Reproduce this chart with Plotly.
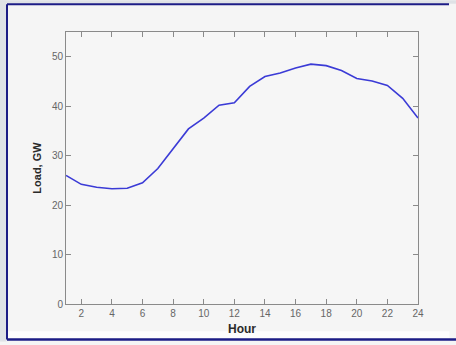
import plotly.graph_objects as go

# Hourly system load profile
hours = list(range(1, 25))
load_gw = [26.0, 24.2, 23.6, 23.3, 23.4, 24.5, 27.4, 31.4, 35.4, 37.6, 40.2, 40.7,
           44.0, 46.0, 46.7, 47.7, 48.5, 48.2, 47.2, 45.6, 45.1, 44.2, 41.6, 37.6]

x_ticks = list(range(2, 25, 2))
y_ticks = list(range(0, 51, 10))

W, H = 456, 345
L, R, T, B = 66, 38, 32, 38
PW, PH = W - L - R, H - T - B


def px(x):
    return (x - L) / PW


def py(y):
    return (H - B - y) / PH


NO_LINE = dict(width=0, color="rgba(0,0,0,0)")

fig = go.Figure()
fig.add_trace(go.Scatter(
    x=hours, y=load_gw, mode="lines",
    line=dict(color="#3b3bd6", width=1.6),
    hoverinfo="skip", showlegend=False,
))

axis_common = dict(
    showgrid=False, zeroline=False,
    showline=True, linecolor="#8a8a8a", linewidth=1,
    ticks="inside", ticklen=5, tickcolor="#8a8a8a", tickwidth=1,
    mirror="ticks",
    tickfont=dict(family="Liberation Sans, Arial", size=10, color="#666666"),
)

fig.update_xaxes(range=[1, 24], tickvals=x_ticks, **axis_common,
                 title=dict(text="<b>Hour</b>", standoff=6,
                            font=dict(family="Liberation Sans, Arial", size=12, color="#2a2a2a")))
fig.update_yaxes(range=[0, 55], tickvals=y_ticks, **axis_common,
                 title=dict(text="<b>Load, GW</b>", standoff=8,
                            font=dict(family="Liberation Sans, Arial", size=11, color="#2a2a2a")))

# Window frame around the figure
shapes = [
    # grey surround
    dict(type="rect", xref="paper", yref="paper", x0=px(0), x1=px(6.5), y0=py(H), y1=py(0),
         fillcolor="#dfe2e6", line=NO_LINE, layer="below"),
    dict(type="rect", xref="paper", yref="paper", x0=px(0), x1=px(W), y0=py(3.5), y1=py(0),
         fillcolor="#dfe2e6", line=NO_LINE, layer="below"),
    dict(type="rect", xref="paper", yref="paper", x0=px(7.5), x1=px(449.5), y0=py(341.5), y1=py(334.5),
         fillcolor="#fdfdfd", line=NO_LINE, layer="below"),
    # navy border
    dict(type="line", xref="paper", yref="paper", x0=px(7), x1=px(449), y0=py(4), y1=py(4),
         line=dict(color="#1c1c86", width=2)),
    dict(type="line", xref="paper", yref="paper", x0=px(7), x1=px(7), y0=py(4), y1=py(343),
         line=dict(color="#1c1c86", width=2)),
    dict(type="line", xref="paper", yref="paper", x0=px(7), x1=px(W), y0=py(343), y1=py(343),
         line=dict(color="#1c1c86", width=2.5)),
]

fig.update_layout(
    width=W, height=H,
    margin=dict(l=L, r=R, t=T, b=B),
    paper_bgcolor="#f5f5f5", plot_bgcolor="#f6f6f6",
    shapes=shapes,
)

fig.write_html("out.html", config={"displayModeBar": False})
